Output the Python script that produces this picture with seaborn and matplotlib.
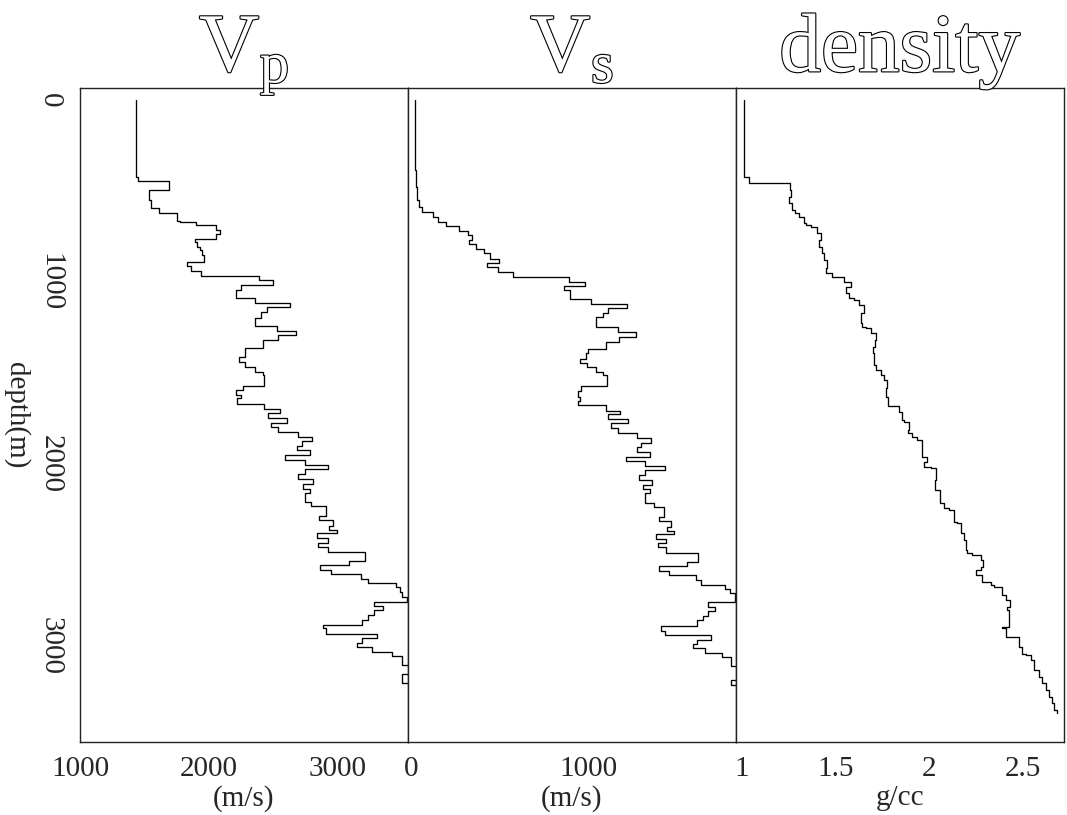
import numpy as np
import pandas as pd
import seaborn as sns
import matplotlib.pyplot as plt
import matplotlib.patheffects as pe

# blocked well logs: depth (m) of each layer top and the value in that layer
vp_top = [0, 421, 443, 495, 550, 595, 619, 665, 671, 687, 713, 738, 763, 781, 808, 826,
          852, 890, 912, 938, 967, 989, 1016, 1044, 1088, 1114, 1139, 1167, 1200, 1242,
          1268, 1293, 1319, 1365, 1410, 1438, 1465, 1493, 1511, 1572, 1594, 1621, 1639,
          1671, 1700, 1722, 1749, 1773, 1799, 1824, 1850, 1872, 1901, 1923, 1951, 1978,
          2004, 2026, 2055, 2081, 2110, 2136, 2158, 2207, 2231, 2286, 2308, 2341, 2363,
          2381, 2409, 2433, 2455, 2482, 2531, 2557, 2583, 2605, 2634, 2656, 2678, 2702,
          2733, 2757, 2781, 2802, 2830, 2857, 2885, 2903, 2934, 2955, 2982, 3004, 3031,
          3055, 3105, 3154, 3205]
vp_val = [1433, 1451, 1690, 1534, 1550, 1611, 1756, 1774, 1898, 2058, 2086, 2058, 1895,
          1908, 1929, 1947, 1962, 1831, 1864, 1937, 2393, 2496, 2246, 2213, 2360, 2631,
          2453, 2406, 2355, 2527, 2677, 2540, 2419, 2277, 2238, 2277, 2355, 2419, 2432,
          2264, 2213, 2251, 2218, 2432, 2553, 2458, 2605, 2484, 2540, 2695, 2798, 2723,
          2682, 2785, 2592, 2749, 2922, 2749, 2690, 2806, 2734, 2788, 2747, 2793, 2909,
          2858, 2966, 2935, 2992, 2840, 2922, 2847, 2922, 3211, 3085, 2863, 2948, 3180,
          3239, 3451, 3482, 3500, 3540, 3283, 3353, 3283, 3232, 3193, 2883, 2909, 3309,
          3188, 3149, 3270, 3425, 3497, 3650, 3500, 3650]

vs_top = [0, 385, 476, 550, 586, 614, 641, 669, 691, 718, 742, 769, 793, 819, 843, 876,
          898, 916, 943, 971, 998, 1020, 1044, 1094, 1121, 1145, 1172, 1194, 1246, 1273,
          1300, 1328, 1366, 1392, 1423, 1447, 1469, 1493, 1511, 1572, 1597, 1630, 1652,
          1676, 1707, 1726, 1755, 1777, 1804, 1832, 1859, 1883, 1909, 1932, 1960, 1982,
          2009, 2030, 2061, 2085, 2116, 2139, 2161, 2213, 2238, 2290, 2312, 2345, 2367,
          2387, 2414, 2436, 2458, 2488, 2537, 2561, 2586, 2610, 2638, 2665, 2684, 2711,
          2760, 2784, 2806, 2834, 2857, 2890, 2916, 2940, 2964, 2986, 3008, 3037, 3059,
          3110, 3187, 3215]
vs_val = [22, 27, 33, 45, 60, 119, 147, 194, 269, 316, 341, 322, 364, 411, 444, 492, 424,
          490, 571, 887, 981, 863, 895, 1013, 1215, 1107, 1079, 1042, 1164, 1268, 1168,
          1098, 994, 985, 953, 989, 1042, 1079, 1104, 957, 938, 953, 942, 1098, 1174, 1111,
          1220, 1126, 1164, 1273, 1349, 1296, 1273, 1343, 1211, 1318, 1431, 1318, 1281,
          1356, 1305, 1347, 1318, 1367, 1424, 1394, 1465, 1443, 1480, 1380, 1437, 1390,
          1437, 1616, 1556, 1399, 1450, 1607, 1635, 1770, 1795, 1825, 1672, 1714, 1672,
          1644, 1612, 1409, 1428, 1688, 1612, 1588, 1654, 1752, 1800, 1900, 1800, 1900]

rho_top = [0, 425, 454, 495, 531, 568, 604, 623, 641, 678, 687, 696, 733, 769, 806, 843,
           879, 925, 952, 974, 998, 1026, 1062, 1090, 1099, 1126, 1172, 1227, 1246, 1255,
           1282, 1319, 1355, 1392, 1456, 1484, 1511, 1539, 1584, 1630, 1680, 1713, 1758,
           1768, 1813, 1832, 1850, 1868, 1960, 1987, 2015, 2024, 2088, 2143, 2216, 2244,
           2253, 2317, 2326, 2381, 2418, 2473, 2491, 2500, 2528, 2564, 2583, 2610, 2647,
           2665, 2674, 2720, 2748, 2784, 2803, 2894, 2903, 2949, 3004, 3041, 3050, 3077,
           3132, 3169, 3205, 3242, 3279, 3315, 3352]
rho_val = [1.010, 1.037, 1.254, 1.260, 1.251, 1.268, 1.283, 1.304, 1.331, 1.340, 1.366,
           1.402, 1.420, 1.411, 1.425, 1.438, 1.455, 1.446, 1.482, 1.545, 1.580, 1.553,
           1.571, 1.598, 1.625, 1.651, 1.633, 1.642, 1.660, 1.687, 1.714, 1.710, 1.696,
           1.705, 1.714, 1.740, 1.758, 1.772, 1.768, 1.780, 1.838, 1.856, 1.865, 1.891,
           1.883, 1.909, 1.936, 1.963, 1.989, 1.972, 2.007, 2.034, 2.030, 2.055, 2.079,
           2.105, 2.132, 2.150, 2.168, 2.185, 2.194, 2.203, 2.230, 2.274, 2.287, 2.274,
           2.248, 2.283, 2.328, 2.346, 2.390, 2.408, 2.429, 2.417, 2.426, 2.390, 2.408,
           2.479, 2.497, 2.515, 2.542, 2.559, 2.586, 2.604, 2.622, 2.640, 2.657, 2.666,
           2.684]

log_bottom = 3368

titles = [r"$\mathrm{V_p}$", r"$\mathrm{V_s}$", "density"]
units = ["(m/s)", "(m/s)", "g/cc"]
xlims = [(1000, 3546), (-20, 1830), (0.966, 2.718)]
xticks = [[1000, 2000, 3000], [0, 1000], [1, 1.5, 2, 2.5]]
xticklabels = [["1000", "2000", "3000"], ["0", "1000"], ["1", "1.5", "2", "2.5"]]
depth_ticks = [0, 1000, 2000, 3000]


def blocky(tops, vals, bottom):
    # corner points of a blocked log, top to bottom
    d = np.repeat(np.append(tops, bottom), 2)[1:-1]
    v = np.repeat(vals, 2)
    return pd.DataFrame({"depth": d, "value": v})


sns.set_style("white")
plt.rcParams["font.family"] = ["Liberation Serif", "DejaVu Serif"]
plt.rcParams["mathtext.fontset"] = "custom"
plt.rcParams["mathtext.rm"] = "Liberation Serif"
plt.rcParams["mathtext.it"] = "Liberation Serif:italic"

fig, axes = plt.subplots(1, 3, figsize=(10.67, 8.15), dpi=100, sharey=True)
fig.subplots_adjust(left=0.075, right=0.997, top=0.892, bottom=0.0896, wspace=0)

logs = [blocky(vp_top, vp_val, log_bottom),
        blocky(vs_top, vs_val, log_bottom),
        blocky(rho_top, rho_val, log_bottom)]

for i, ax in enumerate(axes):
    sns.lineplot(data=logs[i], x="value", y="depth", sort=False, estimator=None,
                 color="black", lw=0.95, ax=ax)
    ax.set_xlim(xlims[i])
    ax.set_xticks(xticks[i])
    ax.set_xticklabels(xticklabels[i])
    ax.set_xlabel(units[i], fontsize=21, labelpad=2)
    ax.set_title(titles[i], fontsize=60, pad=12, color="white",
                 path_effects=[pe.withStroke(linewidth=1.6, foreground="black")])
    ax.tick_params(axis="x", direction="out", length=6, width=1, labelsize=21, pad=4)
    for s in ax.spines.values():
        s.set_color("#222222")
        s.set_linewidth(1.0)
    if i > 0:
        ax.tick_params(axis="y", left=False, labelleft=False)
        ax.set_ylabel("")

ax = axes[0]
ax.set_ylim(3527, -66)
ax.set_yticks(depth_ticks)
ax.set_yticklabels([str(t) for t in depth_ticks], rotation=-90, va="center")
ax.tick_params(axis="y", direction="out", length=6, width=1, labelsize=21, pad=6)
ax.set_ylabel("depth(m)", fontsize=21, rotation=-90, va="top", labelpad=5)

fig.savefig("out.png", dpi=100)
